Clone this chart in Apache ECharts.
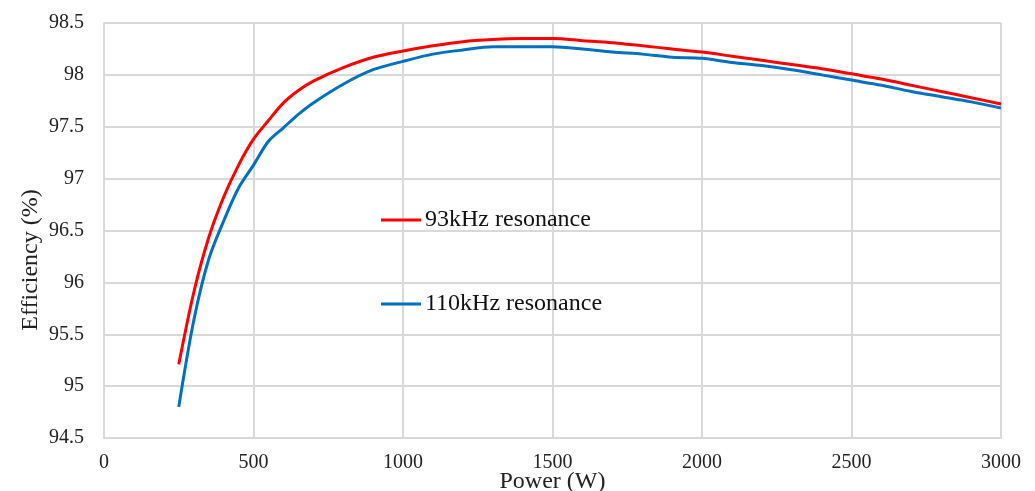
<!DOCTYPE html>
<html>
<head>
<meta charset="utf-8">
<script src="https://cdn.jsdelivr.net/npm/echarts@6/dist/echarts.min.js"></script>
<style>html,body{margin:0;padding:0;background:#fff;}#c{width:1035px;height:491px;}</style>
</head>
<body>
<div id="c"></div>
<script>
const power = [250, 300, 350, 400, 450, 500, 550, 600, 650, 700, 800, 900, 1000, 1100, 1200, 1300, 1400, 1500, 1600, 1700, 1800, 1900, 2000, 2100, 2200, 2300, 2400, 2500, 2600, 2700, 2800, 2900, 3000];
const eff93 = [95.21, 95.90, 96.43, 96.82, 97.13, 97.38, 97.56, 97.73, 97.85, 97.94, 98.07, 98.17, 98.23, 98.28, 98.32, 98.34, 98.35, 98.35, 98.33, 98.31, 98.28, 98.25, 98.22, 98.18, 98.14, 98.10, 98.06, 98.01, 97.96, 97.90, 97.84, 97.78, 97.72];
const eff110 = [94.80, 95.63, 96.22, 96.59, 96.91, 97.13, 97.36, 97.49, 97.62, 97.73, 97.91, 98.05, 98.13, 98.20, 98.24, 98.27, 98.27, 98.27, 98.25, 98.22, 98.20, 98.17, 98.16, 98.12, 98.09, 98.05, 98.00, 97.95, 97.90, 97.84, 97.79, 97.74, 97.68];
const seriesNames = ['93kHz resonance', '110kHz resonance'];
const xTitle = 'Power (W)';
const yTitle = 'Efficiency (%)';

const font = '"Liberation Serif", "Times New Roman", serif';
const chart = echarts.init(document.getElementById('c'));
const pair = (ys) => power.map((p, i) => [p, ys[i]]);
chart.setOption({
  animation: false,
  backgroundColor: '#fff',
  grid: { left: 104, right: 34, top: 23, bottom: 53, outerBoundsMode: 'none', containLabel: false },
  xAxis: {
    type: 'value', min: 0, max: 3000, interval: 500,
    name: xTitle, nameLocation: 'middle', nameGap: 32, nameMoveOverlap: false,
    nameTextStyle: { fontFamily: font, fontSize: 24, color: '#222' },
    axisLine: { show: true, lineStyle: { color: '#d9d9d9', width: 2 } },
    axisTick: { show: false },
    axisLabel: { fontFamily: font, fontSize: 20, color: '#222', margin: 15, formatter: v => String(v) },
    splitLine: { show: true, lineStyle: { color: '#d9d9d9', width: 2 } }
  },
  yAxis: {
    type: 'value', min: 94.5, max: 98.5, interval: 0.5,
    axisLine: { show: true, lineStyle: { color: '#d9d9d9', width: 2 } },
    axisTick: { show: false },
    axisLabel: { fontFamily: font, fontSize: 20, color: '#222', margin: 20, padding: [5, 0, 0, 0], formatter: v => String(v) },
    splitLine: { show: true, lineStyle: { color: '#d9d9d9', width: 2 } }
  },
  graphic: [{
    type: 'text', x: 31, y: 260, rotation: Math.PI / 2,
    style: { text: yTitle, font: '24px ' + font, fill: '#222', textAlign: 'center', textVerticalAlign: 'middle', align: 'center', verticalAlign: 'middle' }
  }],
  legend: [
    { data: [seriesNames[0]], left: 381, top: 208, padding: 0, icon: 'rect', itemWidth: 40, itemHeight: 3, itemGap: 4,
      textStyle: { fontFamily: font, fontSize: 24, color: '#111', padding: [0, 0, 0, -1] } },
    { data: [seriesNames[1]], left: 381, top: 292, padding: 0, icon: 'rect', itemWidth: 40, itemHeight: 3, itemGap: 4,
      textStyle: { fontFamily: font, fontSize: 24, color: '#111', padding: [0, 0, 0, -1] } }
  ],
  series: [
    { name: seriesNames[0], type: 'line', data: pair(eff93), showSymbol: false, smooth: 0.3,
      lineStyle: { color: '#ff0000', width: 3 }, itemStyle: { color: '#ff0000' } },
    { name: seriesNames[1], type: 'line', data: pair(eff110), showSymbol: false, smooth: 0.3,
      lineStyle: { color: '#0070c0', width: 3 }, itemStyle: { color: '#0070c0' } }
  ]
});
</script>
</body>
</html>
